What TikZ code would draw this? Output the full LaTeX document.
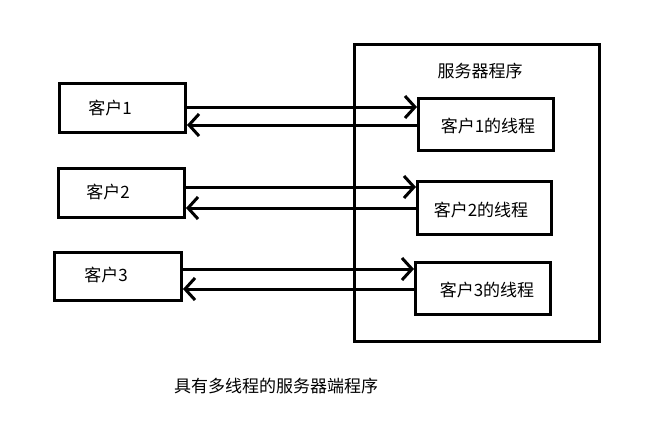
\documentclass[tikz,border=0pt]{standalone}
\usepackage{fontspec}
\newfontfamily\cjk{Noto Sans CJK SC}
\usetikzlibrary{arrows.meta}
\begin{document}
\begin{tikzpicture}[x=1pt,y=-1pt,
  box/.style={draw,line width=3pt,minimum width=#1,inner sep=0pt,anchor=north west},
  lbl/.style={font=\cjk\fontsize{17}{20}\selectfont,inner sep=0pt},
  arr/.style={line width=3pt,-{Straight Barb[length=10pt,width=22pt]}}]
\useasboundingbox (0,0) rectangle (655,423);
% server
\node[box=245pt,minimum height=297pt] (srv) at (353,43) {};
\node[lbl] (srvl) at (480,71) {服务器程序};
% clients
\node[box=126pt,minimum height=49pt] (c1) at (58,82) {};
\node[box=126pt,minimum height=49pt] (c2) at (57,167) {};
\node[box=127pt,minimum height=48pt] (c3) at (53,251) {};
\node[lbl] (c1l) at (110,108) {客户1};
\node[lbl] (c2l) at (108,192) {客户2};
\node[lbl] (c3l) at (106,275) {客户3};
% threads
\node[box=135pt,minimum height=52pt] (t1) at (417,97) {};
\node[box=134pt,minimum height=53pt] (t2) at (416,180) {};
\node[box=135pt,minimum height=52pt] (t3) at (414,261) {};
\node[lbl] (t1l) at (488,126) {客户1的线程};
\node[lbl] (t2l) at (481,210) {客户2的线程};
\node[lbl] (t3l) at (487,290) {客户3的线程};
% arrows
\draw[arr] (c1.east |- 0,107) -- (t1.west |- 0,107);
\draw[arr] (t1.west |- 0,125) -- (c1.east |- 0,125);
\draw[arr] (c2.east |- 0,187) -- (t2.west |- 0,187);
\draw[arr] (t2.west |- 0,208) -- (c2.east |- 0,208);
\draw[arr] (c3.east |- 0,269) -- (t3.west |- 0,269);
\draw[arr] (t3.west |- 0,289) -- (c3.east |- 0,289);
% caption
\node[lbl] (cap) at (276,386) {具有多线程的服务器端程序};
\end{tikzpicture}
\end{document}
